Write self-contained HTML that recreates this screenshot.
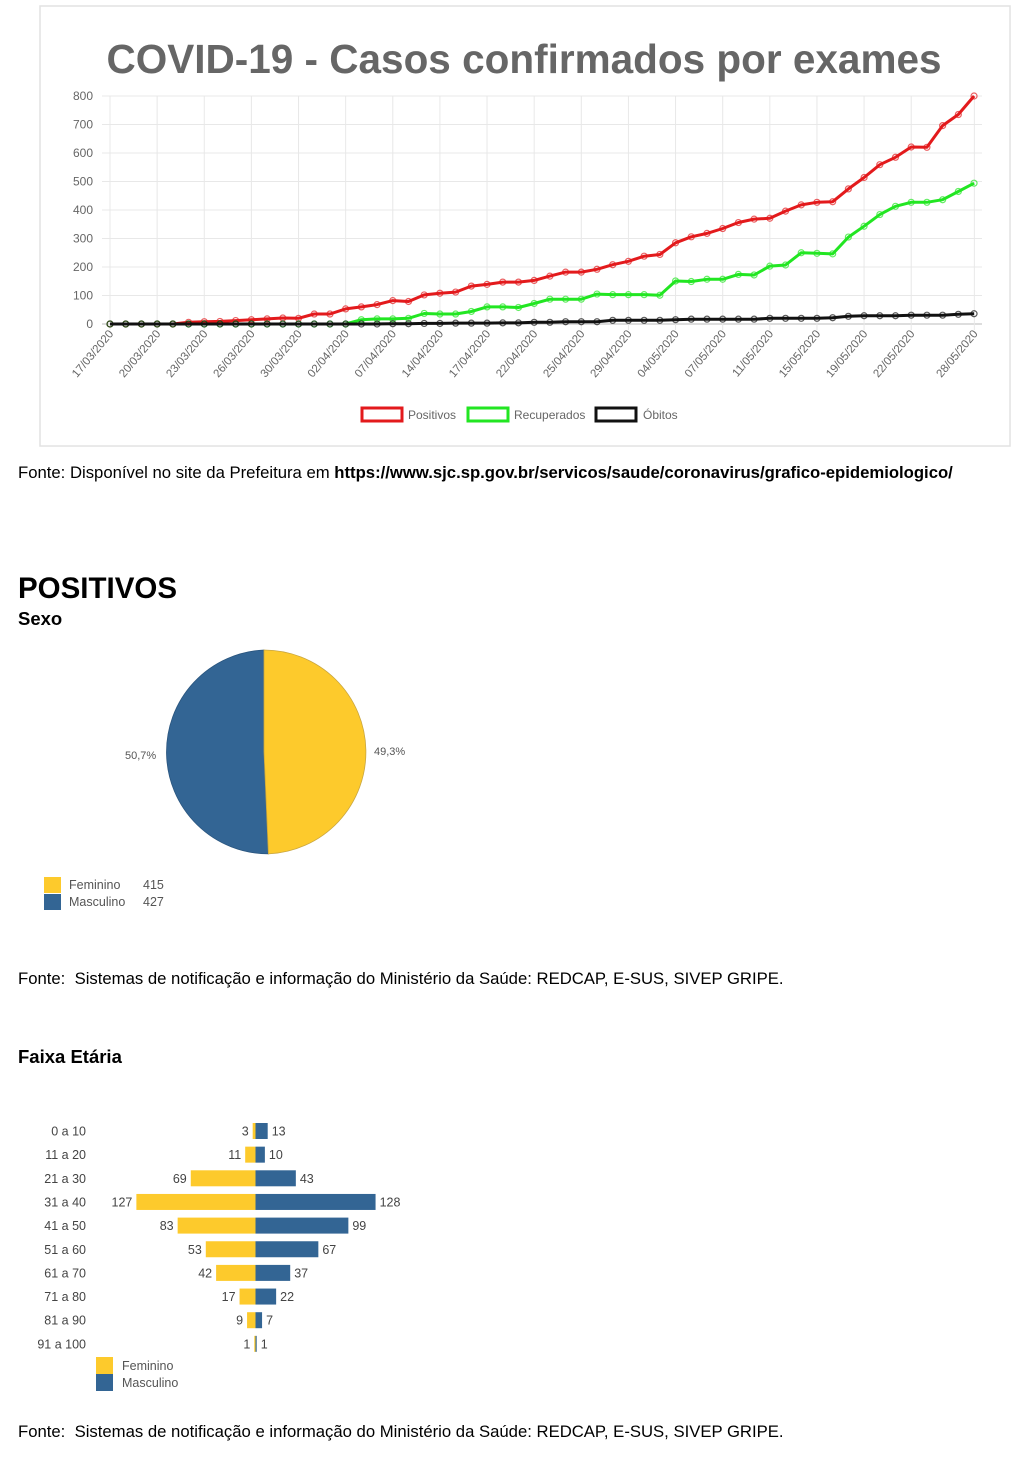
<!DOCTYPE html>
<html><head><meta charset="utf-8"><style>
body{margin:0;background:#fff;width:1034px;height:1460px;position:relative;overflow:hidden;font-family:"Liberation Sans",sans-serif}
.t{position:absolute;white-space:nowrap;color:#000}
</style></head><body>
<svg id="ch" width="1034" height="450" style="position:absolute;left:0;top:0" font-family="Liberation Sans, sans-serif"></svg>
<div class="t" style="left:18px;top:463px;font-size:16.7px">Fonte: Disponível no site da Prefeitura em <b>https://www.sjc.sp.gov.br/servicos/saude/coronavirus/grafico-epidemiologico/</b></div>
<div class="t" style="left:18px;top:572px;font-size:29.5px;font-weight:bold">POSITIVOS</div>
<div class="t" style="left:18px;top:608px;font-size:18.5px;font-weight:bold">Sexo</div>
<svg width="1034" height="1460" style="position:absolute;left:0;top:0" font-family="Liberation Sans, sans-serif">
<path d="M264,752 L264,650 A102,102 0 0 0 268.4,853.9 Z" fill="#336594" stroke="#2a557e" stroke-width="0.8"/>
<path d="M264,752 L264,650 A102,102 0 0 1 268.4,853.9 Z" fill="#fdca2c" stroke="#c9a640" stroke-width="0.8"/>
<text x="125" y="759" font-size="11" fill="#555">50,7%</text>
<text x="374" y="755" font-size="11" fill="#555">49,3%</text>
<rect x="44" y="877" width="17" height="16" fill="#fdca2c"/><rect x="44" y="894" width="17" height="16" fill="#336594"/>
<text x="69" y="889" font-size="12.5" fill="#555">Feminino</text><text x="143" y="889" font-size="12.5" fill="#555">415</text>
<text x="69" y="906" font-size="12.5" fill="#555">Masculino</text><text x="143" y="906" font-size="12.5" fill="#555">427</text>
<g id="bars"></g>
<rect x="96" y="1357" width="17" height="17" fill="#fdca2c"/><rect x="96" y="1374" width="17" height="17" fill="#336594"/>
<text x="122" y="1370" font-size="12.5" fill="#555">Feminino</text>
<text x="122" y="1387" font-size="12.5" fill="#555">Masculino</text>
</svg>
<div class="t" style="left:18px;top:969px;font-size:16.7px">Fonte:&nbsp; Sistemas de notificação e informação do Ministério da Saúde: REDCAP, E-SUS, SIVEP GRIPE.</div>
<div class="t" style="left:18px;top:1046px;font-size:18.5px;font-weight:bold">Faixa Etária</div>
<div class="t" style="left:18px;top:1422px;font-size:16.7px">Fonte:&nbsp; Sistemas de notificação e informação do Ministério da Saúde: REDCAP, E-SUS, SIVEP GRIPE.</div>
<script>
var ns="http://www.w3.org/2000/svg";
function el(p,t,a,txt){var e=document.createElementNS(ns,t);for(var k in a)e.setAttribute(k,a[k]);if(txt!=null)e.textContent=txt;p.appendChild(e);return e;}
var s=document.getElementById('ch');
el(s,'rect',{x:40,y:6,width:970,height:440,fill:'none',stroke:'#e2e2e2','stroke-width':1.5});
el(s,'text',{x:524,y:73,'text-anchor':'middle','font-size':40.5,'font-weight':'bold',fill:'#666'},'COVID-19 - Casos confirmados por exames');
var x0=110,dx=15.71,y0=324,ky=(324-96)/800;
function X(i){return x0+i*dx} function Y(v){return y0-v*ky}
for(var v=0;v<=800;v+=100){el(s,'line',{x1:102,x2:982,y1:Y(v),y2:Y(v),stroke:v?'#e8e8e8':'#bbb'});el(s,'text',{x:93,y:Y(v)+4,'text-anchor':'end','font-size':12,fill:'#666'},v);}
var labs=['17/03/2020','20/03/2020','23/03/2020','26/03/2020','30/03/2020','02/04/2020','07/04/2020','14/04/2020','17/04/2020','22/04/2020','25/04/2020','29/04/2020','04/05/2020','07/05/2020','11/05/2020','15/05/2020','19/05/2020','22/05/2020','28/05/2020'];
for(var j=0;j<19;j++){var xx=X(j*3)+(j==18?16:0);el(s,'line',{x1:xx,x2:xx,y1:96,y2:330,stroke:'#e8e8e8'});
el(s,'text',{x:xx+4,y:334,'text-anchor':'end','font-size':11.5,fill:'#666',transform:'rotate(-50 '+(xx+4)+' 334)'},labs[j]);}
var red=[0,0,0,0,0,6,8,9,12,15,18,21,20,35,35,53,60,68,82,79,102,108,112,133,139,147,147,153,168,182,182,192,208,220,238,244,285,306,318,335,356,368,371,396,418,427,429,474,514,559,585,621,620,696,735,800];
var grn=[0,0,0,0,0,0,0,0,0,0,0,0,0,0,0,0,15,18,18,20,37,35,35,44,60,60,58,72,87,87,87,105,103,103,103,101,151,149,157,157,174,172,203,207,250,248,246,305,343,384,413,427,427,436,465,494];
var blk=[0,0,0,0,0,0,0,0,0,0,0,0,0,0,0,0,0,0,1,1,2,2,3,3,3,4,4,6,6,8,8,8,13,13,13,13,15,17,17,17,17,17,20,20,20,20,22,27,29,29,29,31,31,31,34,36];
function ser(d,c){var p=d.map(function(v,i){return X(i).toFixed(1)+','+Y(v).toFixed(1)}).join(' ');
el(s,'polyline',{points:p,fill:'none',stroke:c,'stroke-width':3,'stroke-linejoin':'round'});
d.forEach(function(v,i){el(s,'circle',{cx:X(i),cy:Y(v),r:3,fill:'none',stroke:c,'stroke-width':1.2,opacity:.7})});}
ser(red,'#e31a1c');ser(grn,'#22e622');ser(blk,'#111');
el(s,'rect',{x:362,y:408,width:40,height:13,fill:'none',stroke:'#e31a1c','stroke-width':3});el(s,'text',{x:408,y:419,'font-size':12,fill:'#666'},'Positivos');
el(s,'rect',{x:468,y:408,width:40,height:13,fill:'none',stroke:'#22e622','stroke-width':3});el(s,'text',{x:514,y:419,'font-size':12,fill:'#666'},'Recuperados');
el(s,'rect',{x:596,y:408,width:40,height:13,fill:'none',stroke:'#111','stroke-width':3});el(s,'text',{x:643,y:419,'font-size':12,fill:'#666'},'Óbitos');
var b=document.getElementById('bars');
var ages=['0 a 10','11 a 20','21 a 30','31 a 40','41 a 50','51 a 60','61 a 70','71 a 80','81 a 90','91 a 100'];
var F=[3,11,69,127,83,53,42,17,9,1],M=[13,10,43,128,99,67,37,22,7,1],k=0.938,c=255.5;
for(var i=0;i<10;i++){var y=1131+i*23.65;
el(b,'text',{x:86,y:y+4.5,'text-anchor':'end','font-size':12.5,fill:'#444'},ages[i]);
var wf=Math.max(F[i]*k,1.2),wm=Math.max(M[i]*k,1.2);
el(b,'rect',{x:c-wf,y:y-8,width:wf,height:16,fill:'#fdca2c'});
el(b,'rect',{x:c,y:y-8,width:wm,height:16,fill:'#336594'});
el(b,'text',{x:c-wf-4,y:y+4.5,'text-anchor':'end','font-size':12.5,fill:'#444'},F[i]);
el(b,'text',{x:c+wm+4,y:y+4.5,'font-size':12.5,fill:'#444'},M[i]);}
</script>
</body></html>
